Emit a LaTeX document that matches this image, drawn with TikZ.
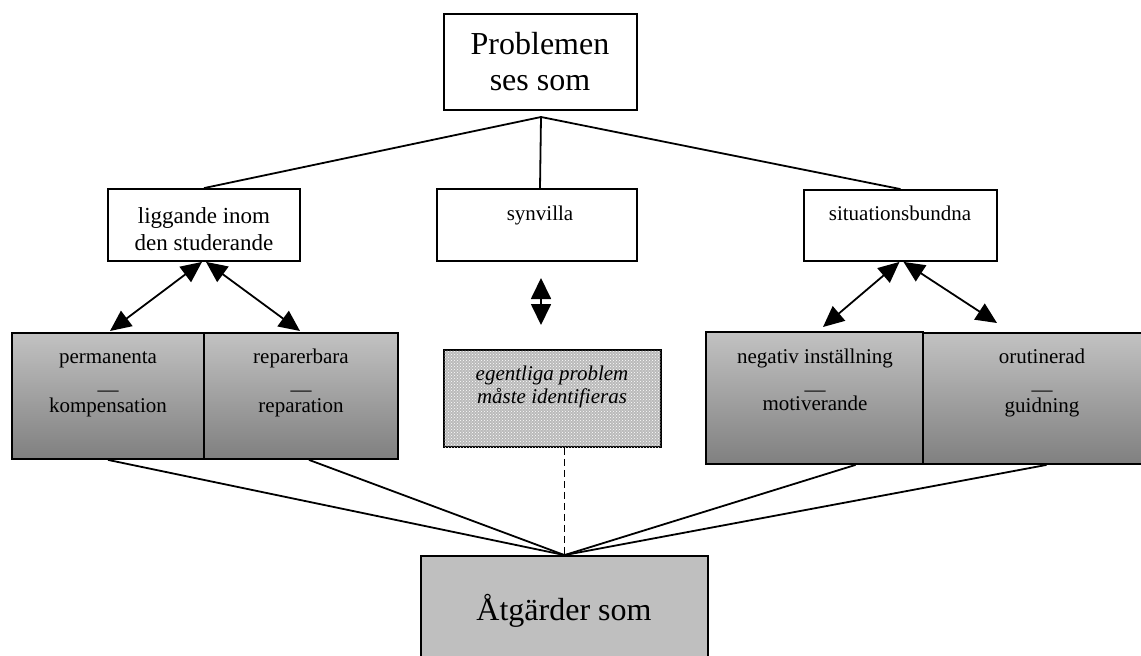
\documentclass[tikz,border=0pt]{standalone}
\usepackage{fontspec}
\setmainfont{Liberation Serif}
\usetikzlibrary{arrows.meta,patterns}
\tikzset{
  box/.style={draw=black, line width=1.8pt, inner sep=0pt, fill=white},
  gbox/.style={box, top color=black!24, bottom color=black!50},
  line/.style={line width=1.8pt},
  dbl/.style={line width=1.8pt, {Triangle[length=21pt,width=19pt]}-{Triangle[length=21pt,width=19pt]}},
  txt/.style={anchor=base, inner sep=0pt},
  big/.style={txt, font=\fontsize{32}{36}\selectfont},
  mid/.style={txt, font=\fontsize{23}{27}\selectfont},
  sm/.style={txt, font=\fontsize{21}{25}\selectfont},
  smi/.style={txt, font=\fontsize{21}{25}\selectfont\itshape},
}
\begin{document}
\begin{tikzpicture}[x=1pt,y=-1pt]
\useasboundingbox (0,0) rectangle (1141,656);
% boxes
\node[box, minimum width=193pt, minimum height=96pt] (top) at (540.5,62) {};
\node[box, minimum width=192pt, minimum height=72pt] (lig) at (204,225) {};
\node[box, minimum width=200pt, minimum height=72pt] (syn) at (537,225) {};
\node[box, minimum width=193pt, minimum height=71pt] (sit) at (900.5,225.5) {};
\node[gbox, minimum width=192pt, minimum height=126pt] (perm) at (108,396) {};
\node[gbox, minimum width=194pt, minimum height=126pt] (rep) at (301,396) {};
\node[box, fill=black!27, postaction={pattern=crosshatch dots, pattern color=white}, minimum width=217pt, minimum height=97pt] (midb) at (552.5,398.5) {};
\node[gbox, minimum width=217pt, minimum height=132pt] (neg) at (814.5,398) {};
\node[gbox, minimum width=227pt, minimum height=131pt] (oru) at (1036.5,398.5) {};
\node[box, fill=black!25, minimum width=287pt, minimum height=114pt] (atg) at (564.5,613) {};
% texts
\node[big] (t1a) at (540,54) {Problemen};
\node[big] (t1b) at (540,90) {ses som};
\node[mid] (t2a) at (204,223) {liggande inom};
\node[mid] (t2b) at (204,250) {den studerande};
\node[sm] (t3) at (540,220) {synvilla};
\node[sm] (t4) at (900,220) {situationsbundna};
\node[sm] (t5a) at (108,363) {permanenta};
\node[sm] (t5b) at (108,396) {—};
\node[sm] (t5c) at (108,412) {kompensation};
\node[sm] (t6a) at (301,363) {reparerbara};
\node[sm] (t6b) at (301,396) {—};
\node[sm] (t6c) at (301,412) {reparation};
\node[smi] (t7a) at (552,380) {egentliga problem};
\node[smi] (t7b) at (552,403) {måste identifieras};
\node[sm] (t8a) at (815,363) {negativ inställning};
\node[sm] (t8b) at (815,396) {—};
\node[sm] (t8c) at (815,410) {motiverande};
\node[sm] (t9a) at (1042,363) {orutinerad};
\node[sm] (t9b) at (1042,396) {—};
\node[sm] (t9c) at (1042,412) {guidning};
\node[big] (t10) at (564,620) {Åtgärder som};
% connectors from top
\coordinate (apex) at (541,117);
\draw[line] (apex) -- (lig.north);
\draw[line] (apex) -- ([xshift=3pt]syn.north);
\draw[line] (apex) -- (sit.north);
% double arrows
\coordinate (a1) at (110,331);
\coordinate (a2) at (300,331);
\coordinate (a3) at (823,327);
\coordinate (a4) at (997,323);
\coordinate (s1) at (541,278);
\coordinate (s2) at (541,325);
\draw[dbl] ([xshift=-2pt]lig.south) -- (a1);
\draw[dbl] ([xshift=2pt]lig.south) -- (a2);
\draw[dbl] ([xshift=-1pt]sit.south) -- (a3);
\draw[dbl] ([xshift=3pt]sit.south) -- (a4);
\draw[line, {Triangle[length=21pt,width=20pt]}-{Triangle[length=21pt,width=20pt]}] (s1) -- (s2);
% connectors to bottom
\draw[line] (perm.south) -- (atg.north);
\draw[line] ([xshift=8pt]rep.south) -- (atg.north);
\draw[line] ([xshift=41pt]neg.south) -- (atg.north);
\draw[line] ([xshift=10pt]oru.south) -- (atg.north);
\draw[line, dash pattern=on 7pt off 4pt] ([xshift=12pt]midb.south) -- (atg.north);
\end{tikzpicture}
\end{document}
